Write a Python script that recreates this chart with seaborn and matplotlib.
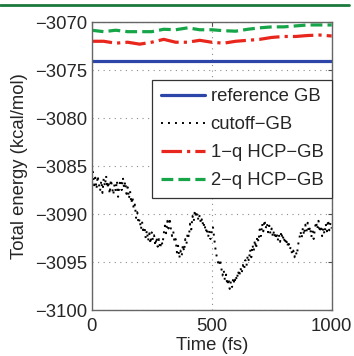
import numpy as np
import pandas as pd
import matplotlib
matplotlib.use("Agg")
import matplotlib.pyplot as plt
import seaborn as sns
from matplotlib.lines import Line2D

# ---- data ----
t_cut = list(range(0, 1001, 5))
e_cut = [
    -3086.4, -3085.6, -3087.0, -3086.2, -3087.4, -3086.0, -3086.9, -3087.6, -3086.5, -3087.8,
    -3086.3, -3087.1, -3086.0, -3087.3, -3086.6, -3087.9, -3086.4, -3087.2, -3088.0, -3086.9,
    -3087.6, -3086.5, -3088.2, -3087.0, -3086.4, -3087.5, -3086.2, -3087.3, -3086.6, -3087.9,
    -3087.2, -3088.4, -3087.6, -3088.9, -3088.2, -3089.5, -3089.0, -3090.4, -3089.8, -3091.0,
    -3090.5, -3091.6, -3090.8, -3092.0, -3091.3, -3092.5, -3091.7, -3092.8, -3092.0, -3093.1,
    -3091.9, -3092.7, -3092.2, -3093.3, -3092.4, -3093.4, -3092.6, -3093.6, -3092.8, -3093.2,
    -3092.1, -3091.2, -3092.0, -3090.7, -3091.5, -3090.4, -3091.6, -3092.3, -3091.8, -3093.0,
    -3092.6, -3094.0, -3093.3, -3094.6, -3093.8, -3094.4, -3093.2, -3093.9, -3092.6, -3093.1,
    -3091.9, -3092.4, -3091.0, -3091.6, -3090.2, -3090.8, -3089.6, -3090.4, -3089.9, -3090.7,
    -3090.1, -3091.0, -3090.4, -3091.4, -3090.9, -3091.9, -3091.4, -3092.4, -3091.7, -3092.6,
    -3091.8, -3091.3, -3092.4, -3093.5, -3094.3, -3094.9, -3095.4, -3094.7, -3095.6, -3096.4,
    -3095.8, -3096.9, -3096.3, -3097.4, -3096.7, -3097.8, -3097.0, -3097.6, -3096.6, -3097.3,
    -3096.4, -3096.9, -3095.9, -3096.5, -3095.6, -3096.2, -3095.3, -3095.8, -3094.8, -3095.4,
    -3094.3, -3094.9, -3093.7, -3094.5, -3093.2, -3093.9, -3092.7, -3093.6, -3092.3, -3092.9,
    -3091.6, -3092.3, -3091.0, -3091.8, -3090.6, -3091.5, -3090.9, -3091.9, -3091.2, -3092.1,
    -3091.5, -3092.4, -3091.7, -3092.6, -3091.9, -3092.8, -3092.1, -3092.9, -3091.8, -3092.7,
    -3092.2, -3093.1, -3092.5, -3093.4, -3092.8, -3093.7, -3093.4, -3094.2, -3093.8, -3094.5,
    -3093.9, -3094.3, -3093.2, -3092.6, -3091.8, -3092.5, -3091.4, -3092.2, -3091.1, -3091.8,
    -3090.9, -3091.9, -3091.3, -3092.4, -3091.7, -3092.6, -3091.5, -3090.8, -3091.6, -3090.7,
    -3091.9, -3091.2, -3092.3, -3091.4, -3092.1, -3091.0, -3091.8, -3090.6, -3091.7, -3090.9,
    -3091.5]

t_hcp = list(range(0, 1001, 50))
e_1q = [-3072.0, -3072.0, -3072.2, -3072.1, -3072.3, -3072.1, -3071.8, -3072.1, -3072.1, -3071.9,
        -3072.1, -3072.2, -3072.0, -3071.9, -3071.8, -3071.6, -3071.5, -3071.5, -3071.4, -3071.35,
        -3071.45]
e_2q = [-3070.85, -3071.0, -3070.85, -3071.0, -3071.0, -3071.0, -3070.75, -3070.8, -3070.6, -3070.8,
        -3070.8, -3070.9, -3070.95, -3070.75, -3070.6, -3070.5, -3070.5, -3070.4, -3070.3, -3070.3,
        -3070.3]
t_ref = [0, 1000]
e_ref = [-3074.05, -3074.05]

labels = ["reference GB", "cutoff\u2212GB", "1\u2212q HCP\u2212GB", "2\u2212q HCP\u2212GB"]
xticks = [0, 500, 1000]
yticks = [-3100, -3095, -3090, -3085, -3080, -3075, -3070]

# ---- style ----
sns.set_style("white")
plt.rcParams['font.family'] = ['Liberation Sans', 'DejaVu Sans']
FS = 13.3
plt.rcParams['font.size'] = FS

fig = plt.figure(figsize=(3.54, 3.56), dpi=100)
ax = fig.add_axes([0.259, 0.129, 0.678, 0.809])

c_blue = "#2b45a8"
c_red = "#e8261c"
c_green = "#16a548"

sns.lineplot(x=t_ref, y=e_ref, ax=ax, color=c_blue, linewidth=2.3, label=labels[0])
sns.lineplot(x=t_cut, y=e_cut, ax=ax, color="black", linewidth=1.4, linestyle=(0, (1, 2.6)), label=labels[1])
sns.lineplot(x=t_hcp, y=e_1q, ax=ax, color=c_red, linewidth=2.3, linestyle="-.", label=labels[2])
sns.lineplot(x=t_hcp, y=e_2q, ax=ax, color=c_green, linewidth=2.3, linestyle="--", label=labels[3])

ax.set_xlim(0, 1000)
ax.set_ylim(-3100, -3070)
ax.set_xticks(xticks)
ax.set_yticks(yticks)
ax.set_xticklabels([str(v) for v in xticks])
ax.set_yticklabels([("\u2212" + str(-v)) for v in yticks])
ax.grid(True, linestyle=(0, (1, 4)), color="0.55", linewidth=0.8)
ax.tick_params(direction="in", length=3, width=0.8, top=True, right=True,
               labelsize=FS, color="0.3")
ax.tick_params(axis="x", pad=5.5)
ax.tick_params(axis="y", pad=3)
for s in ax.spines.values():
    s.set_color("0.4")
    s.set_linewidth(1.0)
ax.set_xlabel("Time (fs)", fontsize=FS, labelpad=1.5)
ax.set_ylabel("Total energy (kcal/mol)", fontsize=FS, labelpad=5)

leg = ax.legend(loc="upper right", bbox_to_anchor=(1.0, 0.80), frameon=True, fancybox=False,
                edgecolor="0.2", framealpha=1, fontsize=FS, handlelength=2.4,
                borderpad=0.45, labelspacing=0.6, handletextpad=0.3, borderaxespad=0.0)
leg.get_frame().set_linewidth(0.9)

fig.add_artist(Line2D([0.0, 0.985], [0.986, 0.986], transform=fig.transFigure,
                      color="#1b7a3c", linewidth=2.0))

fig.savefig("out.png", dpi=100)
